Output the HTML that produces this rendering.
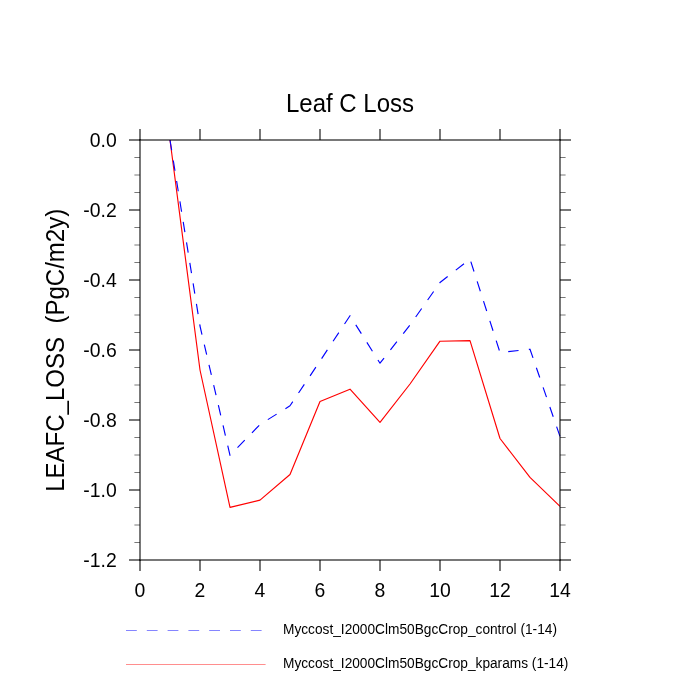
<!DOCTYPE html>
<html><head><meta charset="utf-8"><title>Leaf C Loss</title>
<style>
html,body{margin:0;padding:0;background:#fff;}
body{width:700px;height:700px;overflow:hidden;}
svg{display:block;will-change:transform;font-family:"Liberation Sans",Arial,Helvetica,sans-serif;}
</style></head>
<body>
<svg width="700" height="700" viewBox="0 0 700 700">
<rect width="700" height="700" fill="#fff"/>
<text transform="translate(350,112.2) scale(0.95,1)" font-size="25.3" text-anchor="middle">Leaf C Loss</text>
<text transform="translate(116.7,146.9) scale(0.97,1)" font-size="20" text-anchor="end">0.0</text>
<text transform="translate(116.7,216.9) scale(0.97,1)" font-size="20" text-anchor="end">-0.2</text>
<text transform="translate(116.7,286.9) scale(0.97,1)" font-size="20" text-anchor="end">-0.4</text>
<text transform="translate(116.7,356.9) scale(0.97,1)" font-size="20" text-anchor="end">-0.6</text>
<text transform="translate(116.7,426.9) scale(0.97,1)" font-size="20" text-anchor="end">-0.8</text>
<text transform="translate(116.7,496.9) scale(0.97,1)" font-size="20" text-anchor="end">-1.0</text>
<text transform="translate(116.7,566.9) scale(0.97,1)" font-size="20" text-anchor="end">-1.2</text>
<text transform="translate(140,597.3) scale(0.97,1)" font-size="20" text-anchor="middle">0</text>
<text transform="translate(200,597.3) scale(0.97,1)" font-size="20" text-anchor="middle">2</text>
<text transform="translate(260,597.3) scale(0.97,1)" font-size="20" text-anchor="middle">4</text>
<text transform="translate(320,597.3) scale(0.97,1)" font-size="20" text-anchor="middle">6</text>
<text transform="translate(380,597.3) scale(0.97,1)" font-size="20" text-anchor="middle">8</text>
<text transform="translate(440,597.3) scale(0.97,1)" font-size="20" text-anchor="middle">10</text>
<text transform="translate(500,597.3) scale(0.97,1)" font-size="20" text-anchor="middle">12</text>
<text transform="translate(560,597.3) scale(0.97,1)" font-size="20" text-anchor="middle">14</text>
<text transform="translate(63.9,350.3) rotate(-90) scale(0.958,1)" font-size="25.1" text-anchor="middle">LEAFC_LOSS&#160; (PgC/m2y)</text>
<polyline points="170,140 200,370 230,507.4 260,500.1 290,474.5 320,401.5 350,389.2 380,422.4 410,384 440,341.2 470,340.6 500,438.5 530,477.4 560,506.3" fill="none" stroke="#f00" stroke-width="1.15" stroke-linejoin="round"/>
<polyline points="170,140 200,326 230,455.4 260,424.5 290,405.8 320,361 350,315.7 380,363.2 410,325 440,282.5 470,259 500,352.5 530,349.2 560,436.5" fill="none" stroke="#00f" stroke-width="1.15" stroke-dasharray="10.4 10.35" stroke-linejoin="round"/>
<path d="M140,560V571 M140,140V129 M200,560V571 M200,140V129 M260,560V571 M260,140V129 M320,560V571 M320,140V129 M380,560V571 M380,140V129 M440,560V571 M440,140V129 M500,560V571 M500,140V129 M560,560V571 M560,140V129 M140,140H129 M560,140H571 M140,210H129 M560,210H571 M140,280H129 M560,280H571 M140,350H129 M560,350H571 M140,420H129 M560,420H571 M140,490H129 M560,490H571 M140,560H129 M560,560H571" stroke="#000" stroke-opacity="0.53" stroke-width="2" fill="none"/>
<path d="M140,157.5H134.4 M560,157.5H565.6 M140,175H134.4 M560,175H565.6 M140,192.5H134.4 M560,192.5H565.6 M140,227.5H134.4 M560,227.5H565.6 M140,245H134.4 M560,245H565.6 M140,262.5H134.4 M560,262.5H565.6 M140,297.5H134.4 M560,297.5H565.6 M140,315H134.4 M560,315H565.6 M140,332.5H134.4 M560,332.5H565.6 M140,367.5H134.4 M560,367.5H565.6 M140,385H134.4 M560,385H565.6 M140,402.5H134.4 M560,402.5H565.6 M140,437.5H134.4 M560,437.5H565.6 M140,455H134.4 M560,455H565.6 M140,472.5H134.4 M560,472.5H565.6 M140,507.5H134.4 M560,507.5H565.6 M140,525H134.4 M560,525H565.6 M140,542.5H134.4 M560,542.5H565.6" stroke="#000" stroke-opacity="0.53" stroke-width="1" fill="none"/>
<path d="M139,140H561" stroke="#000" stroke-opacity="0.53" stroke-width="2"/>
<path d="M139,560H561" stroke="#000" stroke-opacity="0.53" stroke-width="2"/>
<path d="M140,139V561" stroke="#000" stroke-opacity="0.53" stroke-width="2"/>
<path d="M560,139V561" stroke="#000" stroke-opacity="0.53" stroke-width="2"/>
<line x1="126" y1="630.5" x2="262" y2="630.5" stroke="#8585ff" stroke-width="1" stroke-dasharray="10.8 10"/>
<line x1="126" y1="664.5" x2="265.6" y2="664.5" stroke="#ff8e8e" stroke-width="1"/>
<text transform="translate(283,633.8) scale(0.89,1)" font-size="15.4">Myccost_I2000Clm50BgcCrop_control (1-14)</text>
<text transform="translate(283,667.9) scale(0.89,1)" font-size="15.4">Myccost_I2000Clm50BgcCrop_kparams (1-14)</text>
</svg>
</body></html>
